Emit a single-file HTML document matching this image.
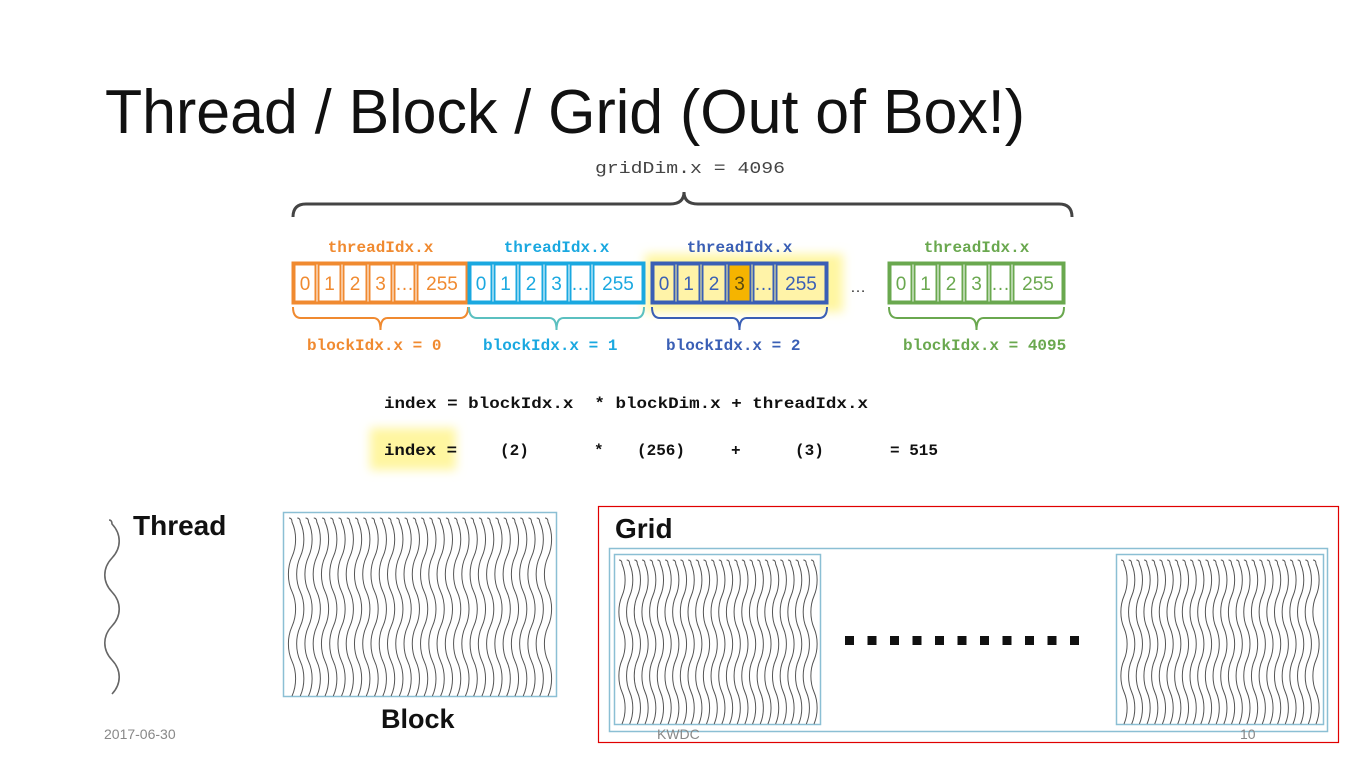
<!DOCTYPE html>
<html><head><meta charset="utf-8"><style>
html,body{margin:0;padding:0;background:#fff;}
svg{display:block;font-family:"Liberation Sans",sans-serif;}
.mono{font-family:"Liberation Mono",monospace;font-weight:bold;}
.cell{font-family:"Liberation Sans",sans-serif;font-size:19px;}
</style></head><body>
<svg id="s" width="1366" height="768" viewBox="0 0 1366 768">
<defs>
<filter id="glow" x="-20%" y="-40%" width="140%" height="180%"><feGaussianBlur stdDeviation="5"/></filter>
</defs>
<text x="105" y="133" font-size="62" fill="#111" textLength="920" lengthAdjust="spacingAndGlyphs">Thread / Block / Grid (Out of Box!)</text>

<g>
<text x="595" y="173" class="mono" font-size="17" fill="#444" textLength="190" lengthAdjust="spacingAndGlyphs" style="font-weight:normal">gridDim.x = 4096</text>
<path d="M293,217 Q293,204 306,204 L670,204 Q684,204 684,192 Q684,204 698,204 L1059,204 Q1072,204 1072,217" fill="none" stroke="#444" stroke-width="3"/>
<rect x="645" y="254" width="198" height="58" fill="#fff6a0" filter="url(#glow)"/>
<rect x="370" y="428" width="86" height="42" fill="#fff6a0" filter="url(#glow)"/>
<g id="blocks"></g>
<text x="850" y="292" font-size="16" fill="#333">…</text>
<text x="384" y="408" class="mono" font-size="16" fill="#111" textLength="484" lengthAdjust="spacingAndGlyphs" xml:space="preserve">index = blockIdx.x  * blockDim.x + threadIdx.x</text>
<g class="mono" font-size="16" fill="#111">
<text x="384" y="455" textLength="73" lengthAdjust="spacingAndGlyphs">index =</text>
<text x="500" y="455">(2)</text>
<text x="594" y="455">*</text>
<text x="637" y="455">(256)</text>
<text x="731" y="455">+</text>
<text x="795" y="455">(3)</text>
<text x="890" y="455">= 515</text>
</g>
</g>

<g>
<path id="thr" fill="none" stroke="#666" stroke-width="1.6"/>
<text x="133" y="535" font-size="28" font-weight="bold" fill="#111">Thread</text>
</g>
<g>
<rect x="283.5" y="512.5" width="273" height="184" fill="#fff" stroke="#8bbfd4" stroke-width="1.5"/>
<g id="blk"></g>
<text x="381" y="728" font-size="27" font-weight="bold" fill="#111">Block</text>
</g>
<g>
<rect x="598.5" y="506.5" width="740" height="236" fill="#fff" stroke="#e00000" stroke-width="1.2"/>
<text x="615" y="538" font-size="28" font-weight="bold" fill="#111">Grid</text>
<rect x="609.5" y="548.5" width="718" height="183" fill="none" stroke="#8bbfd4" stroke-width="1.5"/>
<rect x="614.5" y="554.5" width="206" height="170" fill="none" stroke="#8bbfd4" stroke-width="1.5"/>
<rect x="1116.5" y="554.5" width="207" height="170" fill="none" stroke="#8bbfd4" stroke-width="1.5"/>
<g id="g1"></g><g id="g2"></g><g id="dots"></g>
</g>

<text x="104" y="739" font-size="14" fill="#888">2017-06-30</text>
<text x="657" y="739" font-size="14" fill="#888">KWDC</text>
<text x="1240" y="739" font-size="14" fill="#888">10</text>
</svg>
<script>
const blockNames=["block-0","block-1","block-2","block-4095"];
const blockLabels=["blockIdx.x = 0","blockIdx.x = 1","blockIdx.x = 2","blockIdx.x = 4095"];
const cellLabels=["0","1","2","3","…","255"];
const blockX=[293,469,652,889];
const colors=["#f08a30","#1aa8e0","#3a5fb5","#6aa84f"];
const cellW=[24,25,26,25,23,52];
const NS="http://www.w3.org/2000/svg";
function mk(t,a,p){const e=document.createElementNS(NS,t);for(const k in a)e.setAttribute(k,a[k]);p.appendChild(e);return e;}
const B=document.getElementById('blocks');
blockX.forEach((bx,i)=>{
  const g=mk('g',{},B);
  
  
  const c=colors[i];
  let x=bx;
  cellLabels.forEach((l,j)=>{
    let fill="#fff";
    if(i===2) fill=(j===3)?"#f5b400":"#fff3a8";
    const r=mk('rect',{x:x+1.5,y:264.5,width:cellW[j]-3,height:37,fill:fill,stroke:c,'stroke-width':2},g);
    
    
    const t=mk('text',{x:x+cellW[j]/2,y:290,'text-anchor':'middle',class:'cell',fill:(i===2&&j===3)?"#5a4a10":c},g);
    t.textContent=l;
    x+=cellW[j];
  });
  mk('rect',{x:bx,y:263,width:x-bx,height:40,fill:'none',stroke:c,'stroke-width':3},g);
  const mid=(bx+x)/2;
  const bc=i===1?"#5bc0c0":c;
  mk('path',{d:`M${bx},307 Q${bx},318 ${bx+8},318 L${mid-7},318 Q${mid},318 ${mid},330 Q${mid},318 ${mid+7},318 L${x-8},318 Q${x},318 ${x},307`,fill:'none',stroke:bc,'stroke-width':2},g);
  const tl=mk('text',{x:mid,y:252,'text-anchor':'middle',class:'mono','font-size':16,fill:c},g);
  tl.textContent="threadIdx.x";
  const bl=mk('text',{x:bx+14,y:350,class:'mono','font-size':16,fill:c},g);
  bl.textContent=blockLabels[i];
});
function wave(x,y0,y1,n,amp){
  const h=(y1-y0)/n;let d=`M${x-3},${y0} Q${x},${y0} ${x},${y0+4}`;let y=y0+4;
  for(let k=0;k<n;k++){const s=(k%2?-1:1)*amp;d+=` C${x+s*1.6},${y+h*0.3} ${x+s*1.6},${y+h*0.7} ${x},${y+h}`;y+=h;}
  return d;
}
document.getElementById('thr').setAttribute('d',wave(112,520,690,5,6));
function fill(id,x0,x1,y0,y1,cols,amp){
  const g=document.getElementById(id);
  
  
  const sp=(x1-x0)/(cols-1);let d='';
  for(let c=0;c<cols;c++)d+=wave(x0+c*sp,y0,y1,5,amp)+' ';
  mk('path',{d:d,fill:'none',stroke:'#555','stroke-width':1},g);
}
fill('blk',292,548,518,692,32,3);
fill('g1',622,814,560,720,26,2.6);
fill('g2',1124,1316,560,720,26,2.6);
const D=document.getElementById('dots');
for(let k=0;k<11;k++){const r=mk('rect',{x:845+k*22.5,y:636,width:9,height:9,fill:'#111'},D);

}
</script>
</body></html>
